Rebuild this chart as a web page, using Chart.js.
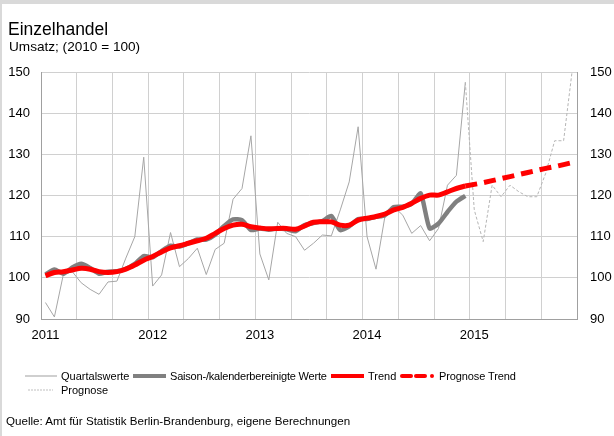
<!DOCTYPE html>
<html><head><meta charset="utf-8">
<script src="https://cdn.jsdelivr.net/npm/chart.js@4"></script>
<style>
html,body{margin:0;padding:0;background:#fff;}
body{width:614px;height:436px;position:relative;overflow:hidden;font-family:"Liberation Sans",Arial,sans-serif;color:#000;}
#frame{position:absolute;left:0;top:0;width:612px;height:432px;border-top:4px solid #d9d9d9;border-left:2px solid #d9d9d9;}
canvas{position:absolute;left:0;top:0;}
.t{position:absolute;white-space:nowrap;line-height:1;}
svg{position:absolute;overflow:visible;}
</style></head><body>
<div id="frame"></div>
<canvas id="c" width="614" height="436"></canvas>
<div class="t" style="left:8px;top:21px;font-size:17.5px;">Einzelhandel</div>
<div class="t" style="left:9px;top:40px;font-size:13.6px;">Umsatz; (2010 = 100)</div>

<svg style="left:0;top:0" width="614" height="436">
  <line x1="25" y1="376" x2="57" y2="376" stroke="#bfbfbf" stroke-width="1.5"/>
  <line x1="133" y1="376" x2="166" y2="376" stroke="#808080" stroke-width="4"/>
  <line x1="331" y1="376" x2="364" y2="376" stroke="#ff0000" stroke-width="4"/>
  <line x1="402" y1="376" x2="411" y2="376" stroke="#ff0000" stroke-width="4" stroke-linecap="round"/>
  <line x1="416" y1="376" x2="425" y2="376" stroke="#ff0000" stroke-width="4" stroke-linecap="round"/>
  <circle cx="432" cy="376" r="2" fill="#ff0000"/>
  <line x1="28" y1="390" x2="53" y2="390" stroke="#bfbfbf" stroke-width="1" stroke-dasharray="2,1"/>
</svg>
<div class="t" style="left:61px;top:371px;font-size:11px;">Quartalswerte</div>
<div class="t" style="left:170px;top:371px;font-size:11px;letter-spacing:-0.2px;">Saison-/kalenderbereinigte Werte</div>
<div class="t" style="left:368px;top:371px;font-size:11px;">Trend</div>
<div class="t" style="left:439px;top:371px;font-size:11px;letter-spacing:-0.1px;">Prognose Trend</div>
<div class="t" style="left:61px;top:385px;font-size:11px;">Prognose</div>
<div class="t" style="left:6px;top:415px;font-size:11.6px;">Quelle: Amt für Statistik Berlin-Brandenburg, eigene Berechnungen</div>

<script>
const years = ['2011','2012','2013','2014','2015'];
const monthsPerYear = 12;
const yTicks = [90,100,110,120,130,140,150];

// Quartalswerte (monthly original values), 2011-2014
const quartalswerte = [
  94, 90.5, 100.8, 101.5, 98.8, 97.2, 96, 99, 99.2, 104.8, 110, 129.3,
  98, 100.7, 111, 102.7, 104.7, 107.2, 100.8, 106.9, 108.4, 119.1, 121.7, 134.5,
  105.8, 99.5, 113.5, 110.8, 110, 106.7, 108.4, 110.4, 110.2, 116.5, 123.3, 136.7,
  110, 102.1, 114.9, 117.3, 115.2, 110.8, 112.7, 109, 112, 122.5, 124.9, 147.5
];
// Prognose: Dec 2014 + 2015
const prognose = [
  147.5,
  116.5, 108.8, 122.5, 119.7, 122.5, 120.9, 119.7, 119.7, 125.4, 133.3, 133.3, 151
];
// Saison-/kalenderbereinigte Werte, 2011-2014
const saisonbereinigt = [
  100.8, 102, 101, 102.5, 103.4, 102.4, 101, 101.5, 101.6, 102.2, 103.4, 105.3,
  105, 106.5, 107.8, 107.6, 108.4, 109.3, 109.3, 110.5, 112.6, 114.2, 114, 111.6,
  112, 111.7, 112, 111.8, 111.3, 112.8, 113.3, 113.8, 115, 111.6, 112.5, 114.3,
  114.3, 114.8, 115.2, 117.2, 117.3, 118, 120.5, 112, 113.2, 116, 118.5, 119.9
];
// Trend, 2011-2014
const trend = [
  100.5, 101.3, 101.5, 101.9, 102.3, 102.1, 101.5, 101.3, 101.5, 102.1, 103.1, 104.3,
  105.2, 106.3, 107.3, 107.8, 108.4, 109, 109.6, 110.8, 112, 112.8, 113, 112.4,
  112.1, 111.9, 112, 112, 111.8, 112.6, 113.5, 113.6, 113.6, 112.8, 112.8, 114,
  114.5, 114.9, 115.5, 116.5, 117.1, 118.1, 119.3, 120.1, 120.1, 120.9, 121.7, 122.3
];
// Prognose Trend: Dec 2014 + 2015
const prognoseTrend = [
  122.3,
  122.7, 123.1, 123.6, 124.1, 124.6, 125.1, 125.6, 126.1, 126.6, 127.0, 127.5, 128.0
];

const labels = [];
years.forEach(y => { for (let m = 1; m <= monthsPerYear; m++) labels.push(y + '-' + String(m).padStart(2,'0')); });
const n = labels.length;
const pad = (arr, start) => { const out = new Array(n).fill(null); arr.forEach((v,i)=>{ out[start+i] = v; }); return out; };
const histLen = quartalswerte.length;

new Chart(document.getElementById('c'), {
  type: 'line',
  data: {
    labels: labels,
    datasets: [
      { label: 'Quartalswerte', data: pad(quartalswerte,0), borderColor: '#a6a6a6', borderWidth: 1, pointRadius: 0, tension: 0, order: 4 },
      { label: 'Prognose', data: pad(prognose, histLen-1), borderColor: '#b5b5b5', borderWidth: 1, borderDash: [3,2], pointRadius: 0, tension: 0, order: 3 },
      { label: 'Saison-/kalenderbereinigte Werte', data: pad(saisonbereinigt,0), borderColor: '#808080', borderWidth: 4.5, pointRadius: 0, tension: 0.2, order: 2 },
      { label: 'Trend', data: pad(trend,0), borderColor: '#ff0000', borderWidth: 5, pointRadius: 0, tension: 0.3, order: 1 },
      { label: 'Prognose Trend', data: pad(prognoseTrend, histLen-1), borderColor: '#ff0000', borderWidth: 5, borderDash: [12,7], pointRadius: 0, tension: 0, order: 0 }
    ]
  },
  options: {
    responsive: false,
    animation: false,
    events: [],
    layout: { padding: { top: 72, left: 0, right: 0, bottom: 0 } },
    plugins: { legend: { display: false }, tooltip: { enabled: false }, title: { display: false } },
    scales: {
      x: {
        type: 'category',
        offset: true,
        grid: { offset: true, drawTicks: false, lineWidth: 1,
          color: ctx => (ctx.index % 4 === 0) ? '#d0d0d0' : 'rgba(0,0,0,0)' },
        border: { color: '#a0a0a0', width: 1 },
        ticks: { autoSkip: false, maxRotation: 0, minRotation: 0, padding: 9, color: '#000',
          font: { family: '"Liberation Sans", Arial, sans-serif', size: 13 },
          callback: (v, i) => (i % monthsPerYear === 0) ? years[i / monthsPerYear] : '' },
        afterFit: s => { s.height = 117; }
      },
      y: {
        position: 'left', min: 90, max: 150,
        afterBuildTicks: s => { s.ticks = yTicks.map(v => ({ value: v })); },
        grid: { drawTicks: false, color: '#d0d0d0', lineWidth: 1 },
        border: { color: '#a0a0a0', width: 1 },
        ticks: { padding: 11, color: '#000', font: { family: '"Liberation Sans", Arial, sans-serif', size: 13 } },
        afterFit: s => { s.width = 41; }
      },
      y2: {
        position: 'right', min: 90, max: 150,
        afterBuildTicks: s => { s.ticks = yTicks.map(v => ({ value: v })); },
        grid: { display: false, drawTicks: false },
        border: { display: true, color: '#a0a0a0', width: 1 },
        ticks: { padding: 13, color: '#000', font: { family: '"Liberation Sans", Arial, sans-serif', size: 13 } },
        afterFit: s => { s.width = 37; }
      }
    }
  }
});
</script>
</body></html>
